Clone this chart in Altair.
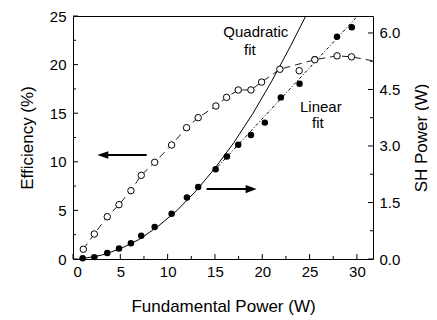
import altair as alt
import pandas as pd

# Efficiency (%) - open circles (left axis)
P_open = [1.09, 2.25, 3.62, 4.86, 6.12, 7.21, 8.63, 10.42, 12.0, 13.23,
          15.1, 16.23, 17.46, 18.8, 19.93, 21.86, 23.9, 25.55, 27.9, 29.43]
eff_open = [1.0, 2.57, 4.35, 5.59, 7.03, 8.61, 9.95, 11.73, 13.51, 14.54,
            15.74, 16.63, 17.39, 17.39, 18.2, 19.52, 19.37, 20.5, 20.9, 20.8]

# dashed guide line through the efficiency points
P_effline = [1.09, 2.25, 3.62, 4.86, 6.12, 7.21, 8.63, 10.42, 12.0, 13.23,
             15.1, 16.23, 17.46, 18.8, 19.93, 21.86, 25.55, 27.9, 29.43, 31.6]
eff_effline = [1.0, 2.57, 4.35, 5.59, 7.03, 8.61, 9.95, 11.73, 13.51, 14.54,
               15.74, 16.63, 17.39, 17.39, 18.2, 19.52, 20.5, 20.9, 20.8, 20.4]

# SH power (W) - filled circles (right axis)
P_fill = [1.02, 2.25, 3.62, 4.86, 6.12, 7.21, 8.63, 10.42, 12.04, 13.23,
          15.07, 16.26, 17.46, 18.8, 20.27, 21.96, 23.94, 25.55, 27.9, 29.46]
sh_fill = [0.02, 0.05, 0.16, 0.28, 0.42, 0.62, 0.85, 1.20, 1.63, 1.91,
           2.38, 2.72, 3.03, 3.29, 3.62, 4.29, 4.65, 5.30, 5.90, 6.15]

# Quadratic fit curve
P_quad = [0.6, 1, 3, 5, 7, 9, 11, 13, 15, 17, 19, 21, 23, 24.6]
sh_quad = [0.0, 0.01, 0.10, 0.27, 0.52, 0.87, 1.29, 1.81, 2.41, 3.09, 3.86, 4.72, 5.66, 6.45]

# Linear fit line
P_lin = [15.3, 30.0]
sh_lin = [2.45, 6.43]

# Arrows (efficiency coordinates)
arrow_id = ["L", "L", "R", "R"]
arrow_P = [7.78, 3.2, 14.12, 18.8]
arrow_eff = [10.7, 10.7, 7.2, 7.2]
head_dir = ["L", "R"]
head_P = [2.57, 19.4]
head_eff = [10.7, 7.2]

# Annotations
ann_text = ["Quadratic", "fit", "Linear", "fit"]
ann_P = [19.32, 18.69, 26.19, 25.87]
ann_eff = [23.36, 21.5, 15.67, 14.02]

# Tick values
x_major = [0, 5, 10, 15, 20, 25, 30]
x_minor = [2.5, 7.5, 12.5, 17.5, 22.5, 27.5]
eff_major = [0, 5, 10, 15, 20, 25]
eff_minor = [2.5, 7.5, 12.5, 17.5, 22.5]
sh_major = [0.0, 1.5, 3.0, 4.5, 6.0]
sh_minor = [0.75, 2.25, 3.75, 5.25]

W, H = 300, 243
FONT = "Liberation Sans"
MAJ, MIN = 5, 3

df_open = pd.DataFrame({"P": P_open, "v": eff_open})
df_effline = pd.DataFrame({"P": P_effline, "v": eff_effline})
df_fill = pd.DataFrame({"P": P_fill, "v": sh_fill})
df_quad = pd.DataFrame({"P": P_quad, "v": sh_quad})
df_lin = pd.DataFrame({"P": P_lin, "v": sh_lin})
df_arrow = pd.DataFrame({"id": arrow_id, "P": arrow_P, "v": arrow_eff})
df_head = pd.DataFrame({"dir": head_dir, "P": head_P, "v": head_eff})
df_ann = pd.DataFrame({"t": ann_text, "P": ann_P, "v": ann_eff})

xs = alt.Scale(domain=[0, 31.7], nice=False, zero=False)


def yeff():
    return alt.Scale(domain=[0, 25], nice=False, zero=False)


def ysh():
    return alt.Scale(domain=[0, 6.45], nice=False, zero=False)


def Xn():
    return alt.X("P:Q", scale=xs, axis=None)


def Yn(scale):
    return alt.Y("v:Q", scale=scale, axis=None)


# main axes on the dashed efficiency line
eff_line = alt.Chart(df_effline).mark_line(
    color="black", strokeWidth=0.9, strokeDash=[7, 5]
).encode(
    x=alt.X("P:Q", scale=xs, axis=alt.Axis(
        orient="bottom", values=x_major, format="d", ticks=False, tickSize=0,
        domain=False, grid=False, labelPadding=5, labelFontSize=15,
        title="Fundamental Power (W)", titleFontSize=17, titlePadding=19)),
    y=alt.Y("v:Q", scale=yeff(), axis=alt.Axis(
        orient="left", values=eff_major, format="d", ticks=False, tickSize=0,
        domain=False, grid=False, labelPadding=7, labelFontSize=15,
        title="Efficiency (%)", titleFontSize=17, titleX=-46, titleY=H / 2,
        titleBaseline="middle", titleAlign="center", titleAngle=270)),
)

quad = alt.Chart(df_quad).mark_line(color="black", strokeWidth=1).encode(
    x=Xn(), y=Yn(ysh()))

lin = alt.Chart(df_lin).mark_line(
    color="black", strokeWidth=1, strokeDash=[3, 2, 1, 2]).encode(
    x=Xn(), y=Yn(ysh()))

shafts = alt.Chart(df_arrow).mark_line(color="black", strokeWidth=2).encode(
    x=Xn(), y=Yn(yeff()), detail="id:N")

heads = alt.Chart(df_head).mark_point(
    filled=True, color="black", size=121, opacity=1
).encode(
    x=Xn(), y=Yn(yeff()),
    shape=alt.Shape("dir:N", scale=alt.Scale(
        domain=["L", "R"],
        range=["M0,0L2,-0.7L2,0.7Z", "M0,0L-2,-0.75L-2,0.75Z"]), legend=None),
)

filled_pts = alt.Chart(df_fill).mark_circle(color="black", size=42, opacity=1).encode(
    x=Xn(),
    y=alt.Y("v:Q", scale=ysh(), axis=alt.Axis(
        orient="right", values=sh_major, format=".1f", ticks=False, tickSize=0,
        domain=False, grid=False, labelPadding=6, labelFontSize=15,
        title="SH Power (W)", titleFontSize=17, titleX=48, titleY=H / 2,
        titleBaseline="middle", titleAlign="center", titleAngle=270)),
)

open_pts = alt.Chart(df_open).mark_point(
    shape="circle", filled=True, fill="white", stroke="black",
    strokeWidth=1, size=42, opacity=1
).encode(x=Xn(), y=Yn(yeff()))

ann = alt.Chart(df_ann).mark_text(
    font=FONT, fontSize=15, color="black", align="center", baseline="middle"
).encode(x=Xn(), y=Yn(yeff()), text="t:N")

# inside tick marks (positions through the scales)
df_xmaj = pd.DataFrame({"P": x_major})
df_xmin = pd.DataFrame({"P": x_minor})
df_emaj = pd.DataFrame({"v": eff_major})
df_emin = pd.DataFrame({"v": eff_minor})
df_smaj = pd.DataFrame({"v": sh_major})
df_smin = pd.DataFrame({"v": sh_minor})


def xticks(df, size):
    return alt.Chart(df).mark_rule(color="black", strokeWidth=1).encode(
        x=Xn(), y=alt.value(H), y2=alt.value(H - size))


def effticks(df, size):
    return alt.Chart(df).mark_rule(color="black", strokeWidth=1).encode(
        y=Yn(yeff()), x=alt.value(0), x2=alt.value(size))


def shticks(df, size):
    return alt.Chart(df).mark_rule(color="black", strokeWidth=1).encode(
        y=Yn(ysh()), x=alt.value(W), x2=alt.value(W - size))


chart = alt.layer(
    eff_line, quad, lin, shafts, heads, filled_pts, open_pts, ann,
    xticks(df_xmaj, MAJ), xticks(df_xmin, MIN),
    effticks(df_emaj, MAJ), effticks(df_emin, MIN),
    shticks(df_smaj, MAJ), shticks(df_smin, MIN),
).resolve_scale(
    y="independent"
).resolve_axis(
    x="independent", y="independent"
).properties(
    width=W, height=H,
    autosize=alt.AutoSizeParams(type="none"),
    padding={"left": 65, "top": 8, "right": 56, "bottom": 56},
).configure_view(
    stroke="black", strokeWidth=1
).configure_axis(
    labelFont=FONT, titleFont=FONT, labelColor="black", titleColor="black",
    tickColor="black", tickWidth=1, titleFontWeight="normal", grid=False
)

chart.save("out.html", embed_options={"renderer": "svg", "actions": False})
